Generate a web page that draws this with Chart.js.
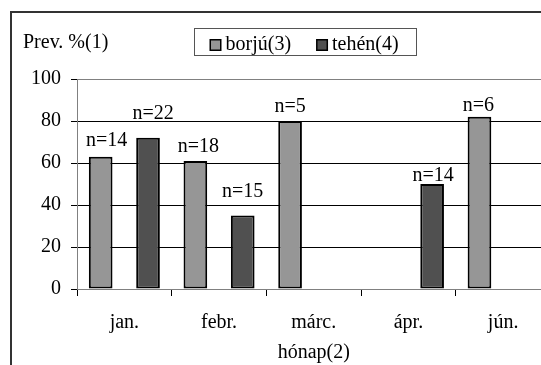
<!DOCTYPE html>
<html>
<head>
<meta charset="utf-8">
<script src="https://cdn.jsdelivr.net/npm/chart.js@4"></script>
<style>
  html, body { margin: 0; padding: 0; background: #fff; overflow: hidden; }
  canvas { display: block; }
</style>
</head>
<body>
<canvas id="prevChart" width="560" height="365"></canvas>
<script>
const months = ['jan.', 'febr.', 'márc.', 'ápr.', 'jún.'];
const borjuValues = [63, 61, 80, null, 82];
const tehenValues = [72, 35, null, 50, null];
const borjuN = [14, 18, 5, null, 6];
const tehenN = [22, 15, null, 14, null];
const yTicks = [0, 20, 40, 60, 80, 100];
const seriesNames = ['borjú(3)', 'tehén(4)'];
const yTitle = 'Prev. %(1)';
const xTitle = 'hónap(2)';

const FONT = '"Liberation Serif", "Times New Roman", serif';
const colors = ['#969696', '#505050'];

// keret, y felirat, jelmagyarázat
const decorPlugin = {
  id: 'decor',
  beforeDraw(chart) {
    const ctx = chart.ctx;
    ctx.save();
    ctx.strokeStyle = '#333';
    ctx.lineWidth = 2;
    ctx.beginPath();
    ctx.moveTo(11, chart.height);
    ctx.lineTo(11, 12);
    ctx.lineTo(chart.width, 12);
    ctx.stroke();
    ctx.restore();
  },
  afterDraw(chart) {
    const ctx = chart.ctx;
    ctx.save();
    ctx.font = '20px ' + FONT;
    ctx.fillStyle = '#000';
    ctx.textBaseline = 'alphabetic';
    ctx.fillText(yTitle, 23, 48);

    // legend
    const left = 194.5, top = 28.5, bottom = 55.5;
    let x = left + 15;
    const items = chart.data.datasets.map(ds => ({ label: ds.label, color: ds.backgroundColor }));
    items.forEach((it, i) => {
      ctx.fillStyle = '#000';
      ctx.fillRect(x, 39, 12, 12);
      ctx.fillStyle = it.color;
      ctx.fillRect(x + 1.5, 40.5, 9, 9);
      ctx.fillStyle = '#000';
      ctx.fillText(it.label, x + 16, 50);
      x += 16 + ctx.measureText(it.label).width;
      if (i < items.length - 1) x += 25;
    });
    const right = Math.round(x + 17) + 0.5;
    ctx.strokeStyle = '#555';
    ctx.lineWidth = 1;
    ctx.strokeRect(left, top, right - left, bottom - top);
    ctx.restore();
  }
};

// n= feliratok az oszlopok felett
const nLabelPlugin = {
  id: 'nLabels',
  afterDatasetsDraw(chart, args, opts) {
    const ctx = chart.ctx;
    ctx.save();
    ctx.font = '20px ' + FONT;
    ctx.fillStyle = '#000';
    ctx.textAlign = 'center';
    ctx.textBaseline = 'alphabetic';
    opts.counts.forEach((counts, di) => {
      const meta = chart.getDatasetMeta(di);
      meta.data.forEach((bar, j) => {
        if (counts[j] == null || chart.data.datasets[di].data[j] == null) return;
        const lift = opts.lift[di][j];
        const dx = opts.shift[di][j];
        ctx.fillText('n=' + counts[j], bar.x + dx, bar.y - lift + 6.6);
      });
    });
    ctx.restore();
  }
};

new Chart(document.getElementById('prevChart'), {
  type: 'bar',
  data: {
    labels: months,
    datasets: [
      {
        label: seriesNames[0],
        data: borjuValues,
        backgroundColor: colors[0],
        borderColor: '#000',
        borderWidth: 2,
        borderSkipped: false
      },
      {
        label: seriesNames[1],
        data: tehenValues,
        backgroundColor: colors[1],
        borderColor: '#000',
        borderWidth: 2,
        borderSkipped: false
      }
    ]
  },
  options: {
    responsive: false,
    animation: false,
    categoryPercentage: 1.0,
    barPercentage: 0.5,
    layout: { padding: { left: 0, top: 79, right: 9.5, bottom: 0 } },
    plugins: {
      legend: { display: false },
      tooltip: { enabled: false },
      nLabels: {
        counts: [borjuN, tehenN],
        lift: [[17, 16, 16, 0, 12], [25, 25, 0, 10, 0]],
        shift: [[6, 3, 0, 0, -1], [5, 0, 0, 1, 0]]
      }
    },
    scales: {
      x: {
        afterFit: scale => { scale.height = 76; },
        grid: { offset: true, drawOnChartArea: false, tickLength: 7, color: '#000' },
        border: { color: '#808080', width: 1 },
        ticks: { color: '#000', font: { family: FONT, size: 20 }, padding: 15 },
        title: {
          display: true,
          text: xTitle,
          color: '#000',
          font: { family: FONT, size: 20 },
          padding: { top: 0, bottom: 0 }
        }
      },
      y: {
        min: 0,
        max: 100,
        afterFit: scale => { scale.width = 77; },
        afterBuildTicks: scale => { scale.ticks = yTicks.map(v => ({ value: v })); },
        grid: {
          color: c => (c.tick && (c.tick.value === 100 || c.tick.value === 0)) ? '#808080' : '#000',
          tickColor: '#000',
          tickLength: 6
        },
        border: { color: '#808080', width: 1 },
        ticks: { color: '#000', font: { family: FONT, size: 20 }, padding: 10 }
      }
    }
  },
  plugins: [decorPlugin, nLabelPlugin]
});
</script>
</body>
</html>
